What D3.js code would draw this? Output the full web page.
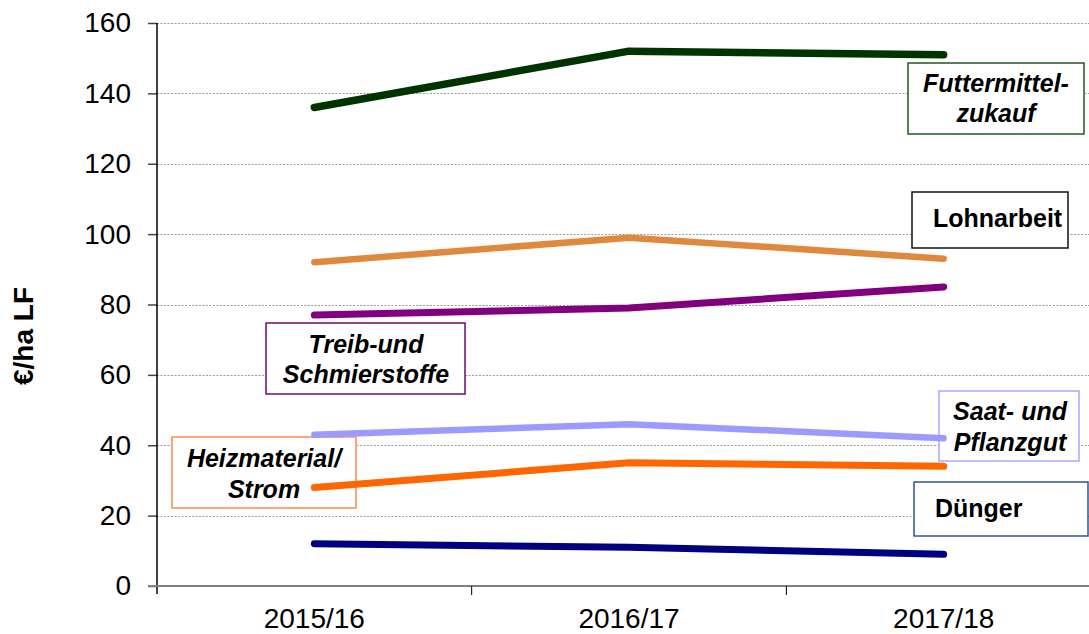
<!DOCTYPE html>
<html><head><meta charset="utf-8">
<script src="https://cdn.jsdelivr.net/npm/d3@7"></script>
<style>
html,body{margin:0;padding:0;background:#fff;}
svg{display:block;font-family:"Liberation Sans",Arial,sans-serif;}
</style></head>
<body>
<svg id="chart" width="1089" height="634"></svg>
<script>
// ---- data ----
const categories = ["2015/16", "2016/17", "2017/18"];
const yTicks = [0, 20, 40, 60, 80, 100, 120, 140, 160];
const futtermittelzukauf = [136, 152, 151];
const lohnarbeit = [92, 99, 93];
const treibstoffe = [77, 79, 85];
const saatgut = [43, 46, 42];
const heizmaterial = [28, 35, 34];
const duenger = [12, 11, 9];
const yLabel = "€/ha LF";

// ---- styling / layout ----
const series = [
  {values: futtermittelzukauf, color: "#003300", w: 7.5},
  {values: lohnarbeit, color: "#E0883C", w: 6.5},
  {values: treibstoffe, color: "#800080", w: 7},
  {values: saatgut, color: "#9B9BFF", w: 6.5},
  {values: heizmaterial, color: "#FF6600", w: 7},
  {values: duenger, color: "#000080", w: 7}
];
const boxes = [
  {lines: ["Futtermittel-", "zukauf"], x0: 908, y0: 63, x1: 1084, y1: 134, stroke: "#1E5A1E", italic: true, cx: 996, base: [92, 122]},
  {lines: ["Lohnarbeit"], x0: 912, y0: 192, x1: 1068, y1: 248, stroke: "#111", italic: false, lx: 933, base: [227]},
  {lines: ["Treib-und", "Schmierstoffe"], x0: 266, y0: 323, x1: 465, y1: 394, stroke: "#6E0A6E", italic: true, cx: 366, base: [353, 383]},
  {lines: ["Saat- und", "Pflanzgut"], x0: 939, y0: 391, x1: 1079, y1: 461, stroke: "#A8A8FF", italic: true, cx: 1010, base: [420, 451]},
  {lines: ["Heizmaterial/", "Strom"], x0: 172, y0: 437, x1: 356, y1: 508, stroke: "#FF8A4A", italic: true, cx: 264, base: [467, 498]},
  {lines: ["Dünger"], x0: 914, y0: 482, x1: 1088, y1: 536, stroke: "#2F5496", italic: false, lx: 935, base: [517]}
];

const svg = d3.select("#chart");
const x = d3.scaleBand().domain(categories).range([157, 1101]).padding(0);
const y = d3.scaleLinear().domain([0, 160]).range([586, 23]);
const cx = c => x(c) + x.bandwidth() / 2;

// gridlines
svg.append("g").selectAll("line").data(yTicks.filter(d => d > 0)).join("line")
  .attr("x1", 157).attr("x2", 1089)
  .attr("y1", d => Math.round(y(d)) + 0.5).attr("y2", d => Math.round(y(d)) + 0.5)
  .attr("stroke", "#9a9a9a").attr("stroke-width", 1).attr("stroke-dasharray", "2,1.5");

// y axis
const yAxis = d3.axisLeft(y).tickValues(yTicks).tickSize(9).tickPadding(17).tickFormat(d3.format("d"));
const gy = svg.append("g").attr("transform", "translate(157,0)").call(yAxis);
gy.select(".domain").remove();
gy.selectAll(".tick line").attr("stroke", "#444").attr("stroke-width", 1.5);
gy.selectAll(".tick text").attr("font-size", 28).attr("fill", "#000")
  .attr("font-family", "Liberation Sans, Arial, sans-serif");
gy.append("line").attr("x1", 0).attr("x2", 0).attr("y1", y(160)).attr("y2", 594)
  .attr("stroke", "#000").attr("stroke-width", 1.5);

// x axis
svg.append("line").attr("x1", 148).attr("x2", 1089).attr("y1", y(0)).attr("y2", y(0))
  .attr("stroke", "#808080").attr("stroke-width", 2);
const xTickPos = categories.map(c => x(c)).concat([x(categories[categories.length - 1]) + x.bandwidth()]);
svg.append("g").selectAll("line").data(xTickPos.slice(1, 3)).join("line")
  .attr("x1", d => d).attr("x2", d => d).attr("y1", y(0)).attr("y2", 595)
  .attr("stroke", "#000").attr("stroke-width", 1);
const xAxis = d3.axisBottom(x).tickSize(0).tickPadding(0);
const gx = svg.append("g").attr("transform", "translate(0,586)").call(xAxis);
gx.select(".domain").remove();
gx.selectAll(".tick text").attr("font-size", 28).attr("fill", "#000").attr("y", 42).attr("dy", null)
  .attr("font-family", "Liberation Sans, Arial, sans-serif");

// y label
svg.append("text").attr("transform", "translate(33,336) rotate(-90)")
  .attr("text-anchor", "middle").attr("font-size", 28).attr("font-weight", "bold").text(yLabel);

// label boxes (drawn beneath the lines)
const bg = svg.append("g");
boxes.forEach(b => {
  bg.append("rect").attr("x", b.x0).attr("y", b.y0).attr("width", b.x1 - b.x0).attr("height", b.y1 - b.y0)
    .attr("fill", "#fff").attr("stroke", b.stroke).attr("stroke-width", 1.5);
  b.lines.forEach((t, i) => {
    bg.append("text").attr("x", b.cx !== undefined ? b.cx : b.lx).attr("y", b.base[i])
      .attr("text-anchor", b.cx !== undefined ? "middle" : "start")
      .attr("font-size", 25).attr("font-weight", "bold")
      .attr("font-style", b.italic ? "italic" : "normal").text(t);
  });
});

// lines
const line = d3.line().x((d, i) => cx(categories[i])).y(d => y(d));
svg.append("g").selectAll("path").data(series).join("path")
  .attr("d", d => line(d.values)).attr("fill", "none")
  .attr("stroke", d => d.color).attr("stroke-width", d => d.w)
  .attr("stroke-linecap", "round").attr("stroke-linejoin", "round");
</script>
</body></html>
